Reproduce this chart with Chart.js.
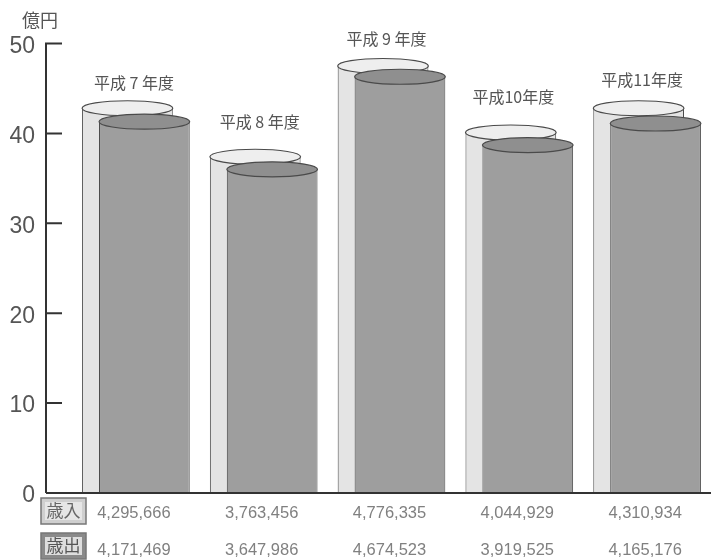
<!DOCTYPE html>
<html><head><meta charset="utf-8">
<style>html,body{margin:0;padding:0;background:#fff}#w{width:711px;height:560px;position:relative}</style>
<script src="https://cdn.jsdelivr.net/npm/chart.js@4/dist/chart.umd.min.js"></script>
</head><body><div id="w"><canvas id="c"></canvas></div>
<script>
const yearLabels = ['平成 7 年度','平成 8 年度','平成 9 年度','平成10年度','平成11年度'];
const revenueText = ['4,295,666','3,763,456','4,776,335','4,044,929','4,310,934'];
const expenseText = ['4,171,469','3,647,986','4,674,523','3,919,525','4,165,176'];
const revenueHeights = [42.8,37.4,47.5,40.1,42.8];
const expenseHeights = [41.3,36.0,46.3,38.7,41.1];
const rowNames = ['歳入','歳出'];
const unitText = '億円';
const yTicks = [0,10,20,30,40,50];

const JP = '"Noto Sans CJK JP"';
const labelLift = [25.5,34.5,27.5,35.5,28.5];
const labelNudge = [-2,-4,-5,-6,-5];

const cylinders = {
  id:'cylinders',
  beforeDatasetsDraw(chart){
    const c = chart.ctx;
    const caps = ['#eeeeee','#8f8f8f'];
    [0,1].forEach(i=>{
      const meta = chart.getDatasetMeta(i);
      meta.controller.draw();
      meta.data.forEach(b=>{
        c.save();
        c.beginPath();
        c.ellipse(b.x,b.y,b.width/2,7.5,0,0,Math.PI*2);
        c.fillStyle=caps[i]; c.fill();
        c.lineWidth=1.2; c.strokeStyle='#4a4a4a'; c.stroke();
        c.restore();
      });
    });
    return false;
  },
  afterDraw(chart){
    const c = chart.ctx, y = chart.scales.y, x = chart.scales.x;
    c.save();
    const axisX = 46, y0 = y.getPixelForValue(0);
    c.strokeStyle='#333'; c.lineWidth=2;
    c.beginPath();
    c.moveTo(axisX,y.getPixelForValue(50)-1); c.lineTo(axisX,y0);
    c.moveTo(axisX,y0); c.lineTo(711,y0);
    yTicks.slice(1).forEach(v=>{
      const p=y.getPixelForValue(v);
      c.moveTo(axisX,p); c.lineTo(62,p);
    });
    c.stroke();
    c.fillStyle='#555'; c.textAlign='left'; c.textBaseline='middle';
    c.font='18px '+JP;
    c.fillText(unitText,22,20);
    c.textAlign='center';
    c.font='16px '+JP;
    const rev = chart.getDatasetMeta(0).data;
    yearLabels.forEach((t,i)=>{
      c.fillText(t,x.getPixelForValue(i)+labelNudge[i],rev[i].y-labelLift[i]);
    });
    const boxes=[{y:498,fill:'#cfcfcf',tx:'#666'},{y:533,fill:'#8a8a8a',tx:'#555'}];
    boxes.forEach((b,i)=>{
      c.fillStyle=b.fill; c.strokeStyle='#777'; c.lineWidth=1.5;
      c.fillRect(41,b.y,45,26); c.strokeRect(41,b.y,45,26);
      c.fillStyle=i?'#dedede':'#e6e6e6';
      c.fillRect(45,b.y+4,37,18);
      c.fillStyle=b.tx; c.font='17px '+JP; c.textAlign='center';
      c.fillText(rowNames[i],63.5,b.y+13);
    });
    c.restore();
  }
};

new Chart(document.getElementById('c'),{
  type:'bar',
  data:{
    labels:revenueText.map((r,i)=>[r,expenseText[i]]),
    datasets:[
      {label:rowNames[0],data:revenueHeights,backgroundColor:'#e4e4e4',borderColor:'#4a4a4a',borderWidth:{left:1,right:1,top:0,bottom:0}},
      {label:rowNames[1],data:expenseHeights,backgroundColor:'#9e9e9e',borderColor:'#4a4a4a',borderWidth:{left:1,right:1,top:0,bottom:0}}
    ]
  },
  plugins:[cylinders],
  options:{
    responsive:true,maintainAspectRatio:false,animation:false,
    layout:{padding:{top:43.5,left:0,right:-2,bottom:0}},
    categoryPercentage:34/128.2,
    barPercentage:91/17,
    plugins:{legend:{display:false},tooltip:{enabled:false},title:{display:false}},
    scales:{
      x:{
        grid:{display:false,drawTicks:false},border:{display:false},
        ticks:{autoSkip:false,maxRotation:0,padding:2,labelOffset:-2,color:'#808080',
          font:{family:'"Liberation Sans"',size:16.5,lineHeight:2.24}},
        afterFit(s){s.height=67;}
      },
      y:{
        min:0,max:50,
        grid:{display:false,drawTicks:false},border:{display:false},
        ticks:{stepSize:10,padding:37,labelOffset:3,color:'#555',font:{family:'"Liberation Sans"',size:23}},
        afterFit(s){s.width=72;s.paddingTop=0;s.paddingBottom=0;}
      }
    }
  }
});
</script></body></html>
